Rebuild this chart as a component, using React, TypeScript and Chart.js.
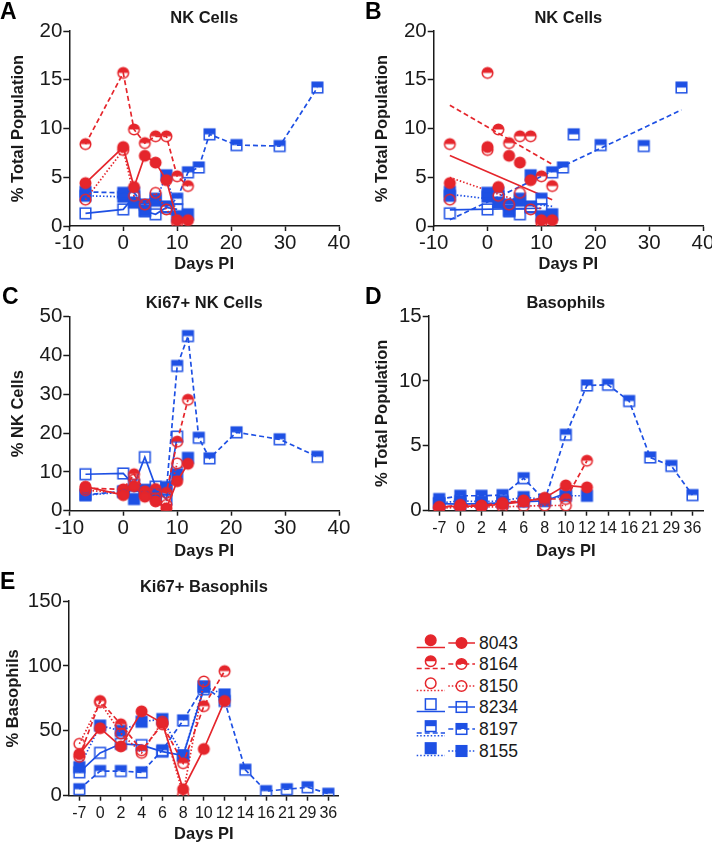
import React, { useEffect, useRef } from 'react';
import { Chart, registerables } from 'chart.js';

Chart.register(...registerables);

const FONT = '"Liberation Sans", Arial, Helvetica, sans-serif';
Chart.defaults.font.family = FONT;

const RED = 'rgb(229,38,44)';
const BLUE = 'rgb(30,80,228)';
const INK = '#1a1a1a';

// ---------- data ----------
const daysShort = [-7, 0, 2, 4, 6, 8, 10, 12];
const daysLong = [-7, 0, 2, 4, 6, 8, 10, 12, 14, 16, 21, 29, 36];
const dayLabels = ['-7', '0', '2', '4', '6', '8', '10', '12', '14', '16', '21', '29', '36'];
const animalIds = ['8043', '8164', '8150', '8234', '8197', '8155'];

// NK cells (% total population) – panels A and B
const nk8043 = [4.4, 8.1, 4.0, 7.2, 6.5, 4.7, 0.6, 0.6];
const nk8164 = [8.4, 15.7, 9.9, 8.5, 9.2, 9.2, 5.1, 4.1];
const nk8150 = [2.7, 7.8, 3.1, 2.2, 3.4, 1.7, 0.3];
const nk8234 = [1.3, 1.7, 3.0, 1.5, 1.2, 1.9, 1.7];
const nk8197 = [3.5, 3.4, 3.4, 2.2, 2.8, 2.0, 2.8, 5.5, 6.0, 9.4, 8.3, 8.2, 14.2];
const nk8155 = [3.1, 3.0, 2.4, 1.6, 2.6, 5.2, 1.0, 1.2];

// Ki67+ NK cells (% NK cells) – panel C
const ki8043 = [6.2, 4.0, 6.3, 3.6, 2.4, 0.6, 7.6, 12.1];
const ki8164 = [5.8, 5.5, 9.4, 5.0, 5.6, 4.6, 17.8, 28.6];
const ki8150 = [5.3, 4.5, 8.0, 4.2, 3.2, 1.5, 12.2];
const ki8234 = [9.4, 9.6, 6.6, 13.8, 6.2, 2.9, 19.1];
const ki8197 = [4.1, 5.0, 5.0, 5.3, 4.6, 5.3, 37.3, 45.0, 18.8, 13.5, 20.2, 18.4, 13.9];
const ki8155 = [4.0, 4.8, 3.0, 5.3, 3.8, 6.1, 9.4, 13.6];

// Basophils (% total population) – panel D
const ba8043 = [0.3, 0.35, 0.35, 0.5, 0.7, 1.0, 1.95, 1.8];
const ba8164 = [0.25, 0.45, 0.4, 0.6, 0.8, 0.9, 0.9, 3.85];
const ba8150 = [0.2, 0.25, 0.3, 0.3, 0.35, 0.4, 0.4];
const ba8234 = [0.55, 0.5, 0.55, 0.6, 0.7, 0.75, 1.35];
const ba8197 = [0.9, 1.15, 1.15, 1.2, 2.5, 0.8, 5.85, 9.65, 9.7, 8.45, 4.1, 3.45, 1.2];
const ba8155 = [0.6, 0.75, 0.7, 0.75, 1.05, 0.85, 1.15, 1.15];

// Ki67+ basophils (% basophils) – panel E
const kb8043 = [32, 52, 38, 65, 56, 5, 36, 73];
const kb8164 = [30, 73, 55, 35, 55, 25, 69, 96];
const kb8150 = [40, 72, 48, 33, 57, 1, 88];
const kb8234 = [18, 33, 40, 39, 34, 31, 82];
const kb8197 = [5, 19, 19, 18, 35, 58, 84, 73, 20, 3.5, 5, 6.5, 1.5];
const kb8155 = [22, 54, 50, 57, 59, 31, 84, 78];

// ---------- styles ----------
type Kind = 'fc' | 'hc' | 'oc' | 'os' | 'hs' | 'fs';
const STYLES: { color: string; kind: Kind; dash: number[] }[] = [
  { color: RED, kind: 'fc', dash: [] },
  { color: RED, kind: 'hc', dash: [5, 3] },
  { color: RED, kind: 'oc', dash: [1.5, 2] },
  { color: BLUE, kind: 'os', dash: [] },
  { color: BLUE, kind: 'hs', dash: [5, 3] },
  { color: BLUE, kind: 'fs', dash: [1.5, 2] },
];

const MR = 5.3; // marker half-size

function makeMarker(kind: Kind, color: string): HTMLCanvasElement {
  const c = document.createElement('canvas');
  c.width = 15;
  c.height = 15;
  const ctx = c.getContext('2d')!;
  ctx.strokeStyle = color;
  ctx.fillStyle = color;
  ctx.lineWidth = 1.5;
  const m = 7.5;
  if (kind === 'fc' || kind === 'hc' || kind === 'oc') {
    const r = MR;
    if (kind === 'hc') {
      ctx.beginPath();
      ctx.arc(m, m, r, Math.PI, 2 * Math.PI);
      ctx.closePath();
      ctx.fill();
    }
    ctx.beginPath();
    ctx.arc(m, m, r, 0, 2 * Math.PI);
    if (kind === 'fc') ctx.fill();
    ctx.stroke();
  } else {
    const s = MR;
    if (kind === 'fs') ctx.fillRect(m - s, m - s, 2 * s, 2 * s);
    if (kind === 'hs') ctx.fillRect(m - s, m - s, 2 * s, s);
    ctx.strokeRect(m - s, m - s, 2 * s, 2 * s);
  }
  return c;
}

function fitLine(xs: number[], ys: number[]) {
  const n = ys.length;
  const x = xs.slice(0, n);
  const mx = x.reduce((a, b) => a + b, 0) / n;
  const my = ys.reduce((a, b) => a + b, 0) / n;
  let sxy = 0;
  let sxx = 0;
  for (let i = 0; i < n; i++) {
    sxy += (x[i] - mx) * (ys[i] - my);
    sxx += (x[i] - mx) * (x[i] - mx);
  }
  const b = sxy / sxx;
  const a = my - b * mx;
  const x0 = Math.min(...x);
  const x1 = Math.max(...x);
  return [
    { x: x0, y: a + b * x0 },
    { x: x1, y: a + b * x1 },
  ];
}

const xy = (xs: number[], ys: number[]) => ys.map((v, i) => ({ x: xs[i], y: v }));

const gridOpts = {
  display: true,
  drawOnChartArea: false,
  drawTicks: true,
  tickLength: 5,
  tickWidth: 1.5,
  tickColor: INK,
};
const borderOpts = { display: true, color: INK, width: 1.5 };

type Dims = {
  pl: number;
  yW: number;
  yTP: number;
  pr: number;
  xH: number;
  xPB: number;
  tTop: number;
  tBot: number;
};

const TITLE_FONT = { size: 16.5, weight: 'bold', lineHeight: 1.2 };

function xLinear(d: Dims) {
  return {
    type: 'linear',
    min: -10,
    max: 40,
    ticks: { stepSize: 10, font: { size: 20.5, lineHeight: 1 }, color: INK, padding: 2, maxRotation: 0, autoSkip: false },
    grid: gridOpts,
    border: borderOpts,
    title: { display: true, text: 'Days PI', font: TITLE_FONT, color: INK, padding: { top: 0, bottom: d.xPB } },
    afterFit: (s: any) => {
      s.height = d.xH;
      s.paddingLeft = 0;
      s.paddingRight = 0;
    },
  };
}

function xCategory(d: Dims) {
  return {
    type: 'category',
    offset: true,
    ticks: { font: { size: 16, lineHeight: 1 }, color: INK, padding: 4.5, maxRotation: 0, autoSkip: false },
    grid: { ...gridOpts, offset: false },
    border: borderOpts,
    title: { display: true, text: 'Days PI', font: TITLE_FONT, color: INK, padding: { top: 0, bottom: d.xPB } },
    afterFit: (s: any) => {
      s.height = d.xH;
      s.paddingLeft = 0;
      s.paddingRight = 0;
    },
  };
}

function yLinear(d: Dims, max: number, step: number, text: string) {
  return {
    type: 'linear',
    min: 0,
    max,
    ticks: { stepSize: step, font: { size: 20.5, lineHeight: 1 }, color: INK, padding: 1 },
    grid: { ...gridOpts, tickLength: 6 },
    border: borderOpts,
    title: { display: true, text, font: TITLE_FONT, color: INK, padding: { top: d.yTP, bottom: 0 } },
    afterFit: (s: any) => {
      s.width = d.yW;
      s.paddingTop = 0;
      s.paddingBottom = 0;
    },
  };
}

function baseOptions(d: Dims, title: string, x: any, y: any) {
  return {
    responsive: false,
    animation: false,
    devicePixelRatio: 1,
    events: [],
    layout: { padding: { left: d.pl, right: d.pr, top: 0, bottom: 0 } },
    plugins: {
      legend: { display: false },
      tooltip: { enabled: false },
      title: {
        display: true,
        text: title,
        fullSize: false,
        color: INK,
        font: TITLE_FONT,
        padding: { top: d.tTop, bottom: d.tBot },
      },
    },
    scales: { x, y },
  };
}

function lineDatasets(xs: number[][] | null, series: number[][], markers: HTMLCanvasElement[], showLine = true) {
  return series.map((ys, i) => ({
    label: animalIds[i],
    data: xs ? xy(xs[i], ys) : ys,
    borderColor: STYLES[i].color,
    backgroundColor: STYLES[i].color,
    borderWidth: 1.7,
    borderDash: STYLES[i].dash,
    pointStyle: markers[i],
    pointRadius: 5.5,
    tension: 0,
    fill: false,
    showLine,
  }));
}

function ChartBox(props: { left: number; top: number; width: number; height: number; build: () => any }) {
  const ref = useRef<HTMLCanvasElement>(null);
  useEffect(() => {
    const chart = new Chart(ref.current as HTMLCanvasElement, props.build());
    return () => chart.destroy();
  }, []);
  return (
    <canvas
      ref={ref}
      width={props.width}
      height={props.height}
      style={{ position: 'absolute', left: props.left, top: props.top, width: props.width, height: props.height }}
    />
  );
}

const getMarkers = () => STYLES.map((s) => makeMarker(s.kind, s.color));

function buildA() {
  const d: Dims = { pl: 0, yW: 69.3, yTP: 8.5, pr: 13, xH: 59, xPB: 11, tTop: 8.3, tBot: 2.9 };
  const m = getMarkers();
  const xs = [daysShort, daysShort, daysShort, daysShort, daysLong, daysShort];
  return {
    type: 'line',
    data: { datasets: lineDatasets(xs, [nk8043, nk8164, nk8150, nk8234, nk8197, nk8155], m) },
    options: baseOptions(d, 'NK Cells', xLinear(d), yLinear(d, 20, 5, '% Total Population')),
  };
}

function buildB() {
  const d: Dims = { pl: 12, yW: 69.7, yTP: 8.2, pr: 9, xH: 59, xPB: 11, tTop: 8.3, tBot: 2.9 };
  const m = getMarkers();
  const xs = [daysShort, daysShort, daysShort, daysShort, daysLong, daysShort];
  const series = [nk8043, nk8164, nk8150, nk8234, nk8197, nk8155];
  const pts = lineDatasets(xs, series, m, false);
  const fits = series.map((ys, i) => ({
    label: animalIds[i] + ' fit',
    data: fitLine(xs[i], ys),
    borderColor: STYLES[i].color,
    borderWidth: 1.7,
    borderDash: STYLES[i].dash,
    pointRadius: 0,
    tension: 0,
    fill: false,
    showLine: true,
  }));
  return {
    type: 'line',
    data: { datasets: [...pts, ...fits] },
    options: baseOptions(d, 'NK Cells', xLinear(d), yLinear(d, 20, 5, '% Total Population')),
  };
}

function buildC() {
  const d: Dims = { pl: 0, yW: 69.3, yTP: 8.5, pr: 13, xH: 59.3, xPB: 8.5, tTop: 8.3, tBot: 3.6 };
  const m = getMarkers();
  const xs = [daysShort, daysShort, daysShort, daysShort, daysLong, daysShort];
  return {
    type: 'line',
    data: { datasets: lineDatasets(xs, [ki8043, ki8164, ki8150, ki8234, ki8197, ki8155], m) },
    options: baseOptions(d, 'Ki67+ NK Cells', xLinear(d), yLinear(d, 50, 10, '% NK Cells')),
  };
}

function buildD() {
  const d: Dims = { pl: 12, yW: 64.7, yTP: 8.2, pr: 9, xH: 59.3, xPB: 8.5, tTop: 8.3, tBot: 2.9 };
  const m = getMarkers();
  return {
    type: 'line',
    data: { labels: dayLabels, datasets: lineDatasets(null, [ba8043, ba8164, ba8150, ba8234, ba8197, ba8155], m) },
    options: baseOptions(d, 'Basophils', xCategory(d), yLinear(d, 15, 5, '% Total Population')),
  };
}

function buildE() {
  const d: Dims = { pl: 0, yW: 69, yTP: 3.5, pr: 13.3, xH: 49.3, xPB: 0.2, tTop: 8.0, tBot: 3.2 };
  const m = getMarkers();
  return {
    type: 'line',
    data: { labels: dayLabels, datasets: lineDatasets(null, [kb8043, kb8164, kb8150, kb8234, kb8197, kb8155], m) },
    options: baseOptions(d, 'Ki67+ Basophils', xCategory(d), yLinear(d, 150, 50, '% Basophils')),
  };
}

function SvgMarker({ kind, color, cx, cy }: { kind: Kind; color: string; cx: number; cy: number }) {
  const r = MR;
  if (kind === 'fc' || kind === 'hc' || kind === 'oc') {
    return (
      <g>
        {kind === 'hc' && <path d={`M ${cx - r} ${cy} A ${r} ${r} 0 0 1 ${cx + r} ${cy} Z`} fill={color} />}
        <circle cx={cx} cy={cy} r={r} fill={kind === 'fc' ? color : 'none'} stroke={color} strokeWidth={1.5} />
      </g>
    );
  }
  return (
    <g>
      {kind === 'hs' && <rect x={cx - r} y={cy - r} width={2 * r} height={r} fill={color} />}
      <rect x={cx - r} y={cy - r} width={2 * r} height={2 * r} fill={kind === 'fs' ? color : 'none'} stroke={color} strokeWidth={1.5} />
    </g>
  );
}

function Legend() {
  const rowH = 21.65;
  const top0 = 642.5;
  return (
    <div style={{ position: 'absolute', left: 0, top: 0 }}>
      {STYLES.map((s, i) => {
        const cy = top0 + i * rowH;
        const dash = s.dash.length ? s.dash.join(' ') : undefined;
        return (
          <div key={i}>
            <svg
              width={64}
              height={22}
              style={{ position: 'absolute', left: 414, top: cy - 11 }}
              viewBox="414 0 64 22"
            >
              <SvgMarker kind={s.kind} color={s.color} cx={430.7} cy={11 - 2.8} />
              {i === 4 ? (
                <g>
                  <line x1={416.7} x2={445} y1={11 + 4} y2={11 + 4} stroke={s.color} strokeWidth={1.4} strokeDasharray="5 3" />
                  <line x1={416.7} x2={445} y1={11 + 6.7} y2={11 + 6.7} stroke={s.color} strokeWidth={1.4} strokeDasharray="1.5 2" />
                </g>
              ) : (
                <line x1={416.7} x2={445} y1={11 + 4.5} y2={11 + 4.5} stroke={s.color} strokeWidth={1.5} strokeDasharray={dash} />
              )}
              <line x1={448.3} x2={475} y1={11} y2={11} stroke={s.color} strokeWidth={1.5} strokeDasharray={dash} />
              <SvgMarker kind={s.kind} color={s.color} cx={461.5} cy={11} />
            </svg>
            <div
              style={{
                position: 'absolute',
                left: 479,
                top: cy - 10,
                height: 20,
                lineHeight: '20px',
                fontSize: 17.5,
                fontFamily: FONT,
                color: INK,
              }}
            >
              {animalIds[i]}
            </div>
          </div>
        );
      })}
    </div>
  );
}

const letterStyle = (left: number, top: number): React.CSSProperties => ({
  position: 'absolute',
  left,
  top,
  fontFamily: FONT,
  fontWeight: 'bold',
  fontSize: 23,
  lineHeight: '22px',
  color: '#000',
});

export default function App() {
  return (
    <div style={{ position: 'fixed', left: 0, top: 0, width: 712, height: 845, background: '#fff', overflow: 'hidden' }}>
      <ChartBox left={0} top={0} width={352} height={285} build={buildA} />
      <ChartBox left={352} top={0} width={360} height={285} build={buildB} />
      <ChartBox left={0} top={285} width={352} height={285} build={buildC} />
      <ChartBox left={352} top={285} width={360} height={285} build={buildD} />
      <ChartBox left={0} top={570} width={352} height={275} build={buildE} />
      <Legend />
      <div style={letterStyle(0, 0)}>A</div>
      <div style={letterStyle(365, 0)}>B</div>
      <div style={letterStyle(2, 285)}>C</div>
      <div style={letterStyle(365, 285)}>D</div>
      <div style={letterStyle(0, 570)}>E</div>
    </div>
  );
}
